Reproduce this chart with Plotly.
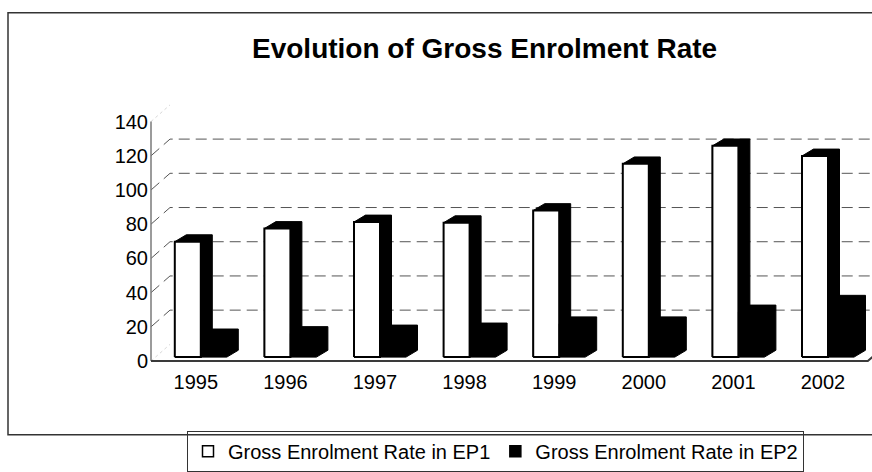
import plotly.graph_objects as go

# ---- data -------------------------------------------------------------
years = ["1995", "1996", "1997", "1998", "1999", "2000", "2001", "2002"]
ger_ep1 = [67.5, 75.2, 79.0, 78.6, 85.7, 113.0, 123.5, 117.6]
ger_ep2 = [12.4, 13.8, 14.7, 15.9, 19.5, 19.5, 26.4, 32.1]
value_ticks = [0, 20, 40, 60, 80, 100, 120, 140]
series_names = ["Gross Enrolment Rate in EP1", "Gross Enrolment Rate in EP2"]
title_text = "Evolution of Gross Enrolment Rate"

# ---- geometry (pixels) ------------------------------------------------
W, H = 872, 472
PL, PR, PT, PB = 149, 872, 100, 368      # plot area box
AXIS_X_PX, AXIS_Y_PX = 151, 366          # front corner of the floor
CAT_PX = 89.6                            # pixels per category
VAL_PX = 1.743                           # pixels per rate unit


def dx(p):
    return p / CAT_PX


def dy(p):
    return p / VAL_PX


x_front = -0.5
x_lo = x_front - dx(AXIS_X_PX - PL)
x_hi = x_front + dx(PR - AXIS_X_PX)
y_lo = -dy(PB - AXIS_Y_PX)
y_hi = dy(AXIS_Y_PX - PT)
x_end = len(years) - 0.5

# oblique offsets for the pseudo-3D look
WALL_DX, WALL_DY = dx(19), dy(17)        # back wall
BAR_DX, BAR_DY = dx(11.5), dy(7)         # bar depth
BAR_SHIFT = dx(5)                        # bars sit a little behind the front
BAR_BASE = dy(4)
BAR_W = dx(26)

FONT = "Arial, Liberation Sans, sans-serif"

fig = go.Figure()

# back-wall dashed gridlines (with their diagonal run up from the axis)
gx, gy = [], []
for v in value_ticks[1:-1]:
    gx += [x_front, x_front + WALL_DX, x_hi + 1, None]
    gy += [v, v + WALL_DY, v + WALL_DY, None]
fig.add_trace(go.Scatter(x=gx, y=gy, mode="lines",
                         line=dict(color="#555555", width=1, dash="11px,6px"),
                         hoverinfo="skip", showlegend=False))

# faint wall edges at the floor and at the top
ex, ey = [], []
for v in (value_ticks[0], value_ticks[-1]):
    ex += [x_front, x_front + WALL_DX, None]
    ey += [v, v + WALL_DY, None]
fig.add_trace(go.Scatter(x=ex, y=ey, mode="lines",
                         line=dict(color="#d8d8d8", width=1, dash="dot"),
                         hoverinfo="skip", showlegend=False))

# value axis line and front floor edge
fig.add_trace(go.Scatter(x=[x_front, x_front], y=[value_ticks[0], value_ticks[-1]],
                         mode="lines", line=dict(color="#7a7a7a", width=1.5),
                         hoverinfo="skip", showlegend=False))
fig.add_trace(go.Scatter(x=[x_front, x_end, x_end + WALL_DX], y=[0, 0, WALL_DY],
                         mode="lines", line=dict(color="#3a3a3a", width=2),
                         hoverinfo="skip", showlegend=False))


def silhouette(x0, x1, top):
    b = BAR_BASE
    t = BAR_BASE + top
    return ([x0, x0, x0 + BAR_DX, x1 + BAR_DX, x1 + BAR_DX, x1, x0, None],
            [b, t, t + BAR_DY, t + BAR_DY, b + BAR_DY, b, b, None])


def front(x0, x1, top):
    b = BAR_BASE
    t = BAR_BASE + top
    return ([x0, x0, x1, x1, x0, None], [b, t, t, b, b, None])


s1x, s1y, f1x, f1y, s2x, s2y = [], [], [], [], [], []
for i, (v1, v2) in enumerate(zip(ger_ep1, ger_ep2)):
    left = i + BAR_SHIFT - BAR_W
    mid = i + BAR_SHIFT
    right = i + BAR_SHIFT + BAR_W
    a, b = silhouette(left, mid, v1)
    s1x += a
    s1y += b
    a, b = front(left, mid, v1)
    f1x += a
    f1y += b
    a, b = silhouette(mid, right, v2)
    s2x += a
    s2y += b

# EP1: black top/side, white face with dark outline
fig.add_trace(go.Scatter(x=s1x, y=s1y, mode="lines", fill="toself",
                         fillcolor="black", line=dict(color="black", width=1),
                         hoverinfo="skip", showlegend=False))
fig.add_trace(go.Scatter(x=f1x, y=f1y, mode="lines", fill="toself",
                         fillcolor="white", line=dict(color="black", width=2),
                         hoverinfo="skip", showlegend=False))
# EP2: solid black block
fig.add_trace(go.Scatter(x=s2x, y=s2y, mode="lines", fill="toself",
                         fillcolor="black", line=dict(color="black", width=1),
                         hoverinfo="skip", showlegend=False))

# legend keys
fig.add_trace(go.Scatter(x=[None], y=[None], mode="markers", name=series_names[0],
                         marker=dict(symbol="square", size=11, color="white",
                                     line=dict(color="black", width=1.5))))
fig.add_trace(go.Scatter(x=[None], y=[None], mode="markers", name=series_names[1],
                         marker=dict(symbol="square", size=11, color="black",
                                     line=dict(color="black", width=1.5))))


def paper_x(p):
    return (p - PL) / (PR - PL)


def paper_y(p):
    return (PB - p) / (PB - PT)


fig.update_layout(
    width=W, height=H,
    margin=dict(l=PL, r=W - PR, t=PT, b=H - PB, pad=0),
    paper_bgcolor="white", plot_bgcolor="rgba(0,0,0,0)",
    font=dict(family=FONT, size=20, color="black"),
    title=dict(text="<b>" + title_text + "</b>", font=dict(family=FONT, size=28, color="black"),
               x=252 / W, xanchor="left", xref="container",
               y=1 - 48 / H, yanchor="middle", yref="container"),
    xaxis=dict(range=[x_lo, x_hi], tickvals=list(range(len(years))), ticktext=years,
               showgrid=False, zeroline=False, showline=False, ticks="",
               ticklabelstandoff=5,
               tickfont=dict(size=20, family=FONT, color="black")),
    yaxis=dict(range=[y_lo, y_hi], tickvals=value_ticks,
               showgrid=False, zeroline=False, showline=False, ticks="",
               tickfont=dict(size=20, family=FONT, color="black")),
    legend=dict(orientation="h", x=paper_x(187), xanchor="left",
                y=paper_y(437), yanchor="top",
                bgcolor="rgba(0,0,0,0)", bordercolor="#333333", borderwidth=1,
                font=dict(size=20, family=FONT, color="black"),
                itemwidth=30, tracegroupgap=0),
    shapes=[dict(type="rect", xref="paper", yref="paper",
                 x0=paper_x(8), x1=paper_x(1000), y0=paper_y(441), y1=paper_y(11),
                 line=dict(color="#333333", width=1.5), layer="above")],
    showlegend=True,
)

fig.write_html("out.html")
